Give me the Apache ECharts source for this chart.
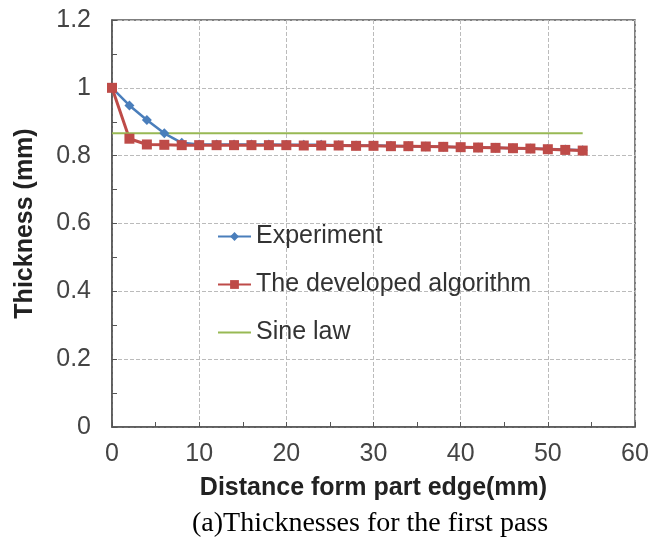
<!DOCTYPE html>
<html>
<head>
<meta charset="utf-8">
<script src="https://cdn.jsdelivr.net/npm/echarts@6/dist/echarts.min.js"></script>
<style>html,body{margin:0;padding:0;background:#fff}#c{width:652px;height:542px}</style>
</head>
<body>
<div id="c"></div>
<script>
var xs = [0,2,4,6,8,10,12,14,16,18,20,22,24,26,28,30,32,34,36,38,40,42,44,46,48,50,52,54];
var experiment = [1.0,0.948,0.905,0.866,0.838,0.833,0.833,0.833,0.833,0.833,0.832,0.832,0.832,0.831,0.830,0.830,0.829,0.828,0.827,0.826,0.825,0.824,0.823,0.822,0.821,0.820,0.818,0.816];
var developed = [1.0,0.85,0.833,0.832,0.831,0.831,0.831,0.831,0.831,0.831,0.831,0.830,0.830,0.830,0.829,0.829,0.828,0.828,0.827,0.826,0.825,0.824,0.823,0.822,0.821,0.819,0.817,0.815];
var sineX = [0,54];
var sineY = [0.866,0.866];
var names = ['Experiment','The developed algorithm','Sine law'];

function pairs(a,b){return a.map(function(v,i){return [v,b[i]];});}

var chart = echarts.init(document.getElementById('c'));
chart.setOption({
  animation:false,
  title:{text:'(a)Thicknesses for the first pass',left:187,top:505,
    textStyle:{fontFamily:'Liberation Serif',fontSize:28,fontWeight:'normal',color:'#000'}},
  grid:{left:112,right:17,top:20,bottom:115,show:true,borderColor:'#555',borderWidth:1.5,containLabel:false},
  legend:{orient:'vertical',left:212,top:219,itemGap:23,itemWidth:33,itemHeight:11,
    textStyle:{fontFamily:'Liberation Sans',fontSize:25,color:'#333'},
    data:[names[0],names[1],{name:names[2],itemStyle:{opacity:0}}]},
  xAxis:{type:'value',min:0,max:60,interval:10,
    name:'Distance form part edge(mm)',nameLocation:'middle',nameGap:49,
    nameTextStyle:{fontFamily:'Liberation Sans',fontSize:25,fontWeight:'bold',color:'#222'},
    axisLine:{lineStyle:{color:'#555',width:1.5}},
    axisTick:{inside:true,length:5,lineStyle:{color:'#555'}},
    minorTick:{show:true,splitNumber:2,length:5,lineStyle:{color:'#555'}},
    axisLabel:{fontFamily:'Liberation Sans',fontSize:25,color:'#444',margin:15},
    splitLine:{show:true,lineStyle:{color:'#bbb',type:'dashed'}}},
  yAxis:{type:'value',min:0,max:1.2,interval:0.2,
    name:'Thickness (mm)',nameLocation:'middle',nameGap:74,
    nameTextStyle:{fontFamily:'Liberation Sans',fontSize:25,fontWeight:'bold',color:'#222'},
    axisLine:{show:true,lineStyle:{color:'#555',width:1.5}},
    axisTick:{show:true,inside:true,length:5,lineStyle:{color:'#555'}},
    minorTick:{show:true,splitNumber:2,length:5,lineStyle:{color:'#555'}},
    axisLabel:{fontFamily:'Liberation Sans',fontSize:25,color:'#444',margin:21,
      formatter:function(v){return String(Math.round(v*10)/10);}},
    splitLine:{show:true,lineStyle:{color:'#bbb',type:'dashed'}}},
  series:[
    {name:names[0],type:'line',data:pairs(xs,experiment),symbol:'diamond',symbolSize:10,
      itemStyle:{color:'#4a7ebb'},lineStyle:{color:'#4a7ebb',width:2.5}},
    {name:names[1],type:'line',data:pairs(xs,developed),symbol:'rect',symbolSize:10,
      itemStyle:{color:'#be4b48'},lineStyle:{color:'#be4b48',width:3}},
    {name:names[2],type:'line',data:pairs(sineX,sineY),symbol:'none',
      itemStyle:{color:'#98b954'},lineStyle:{color:'#98b954',width:2}}
  ]
});
</script>
</body>
</html>
